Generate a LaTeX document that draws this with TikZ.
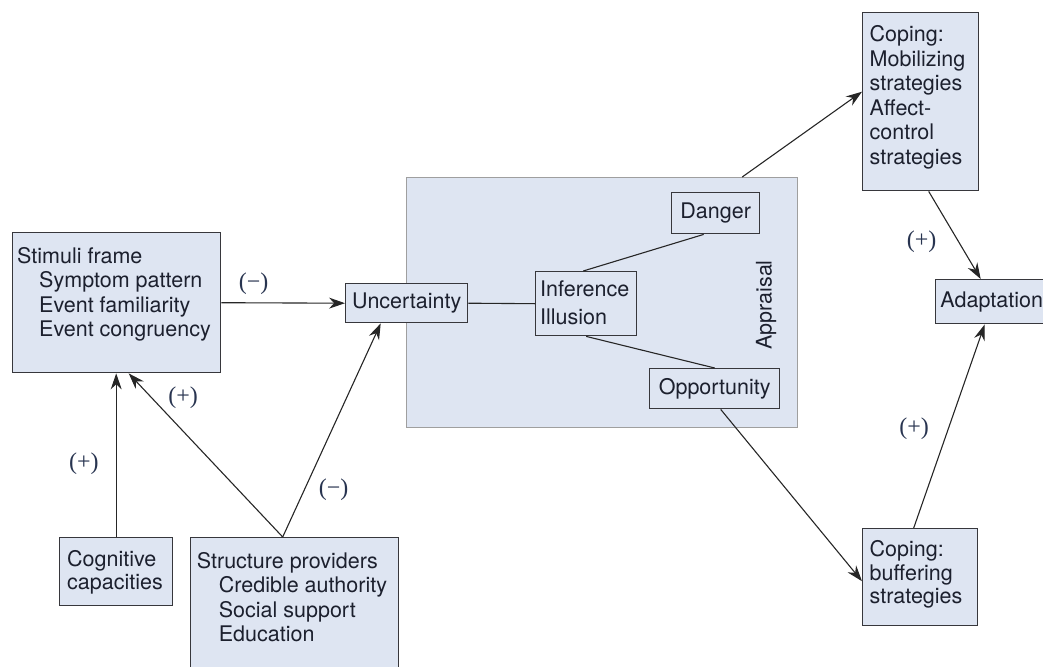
\documentclass[tikz,border=0pt]{standalone}
\usepackage{fontspec}
\setmainfont{TeX Gyre Heros}
\newfontfamily\signfont{Liberation Serif}
\usetikzlibrary{arrows.meta}

\definecolor{boxfill}{RGB}{222,229,242}
\definecolor{boxline}{RGB}{55,55,60}
\definecolor{inktext}{RGB}{28,32,46}
\definecolor{signtext}{RGB}{40,52,80}

\begin{document}
\begin{tikzpicture}[
                x = 1pt, y = -1pt,
                box/.style = {
                    draw = boxline,
                    fill = boxfill,
                    line width = 1.4pt,
                    rectangle,
                    inner sep = 0pt,
                    anchor = north west,
                    minimum width = #1,
                    text = inktext,
                    font = \fontsize{21.5}{24.5}\selectfont
                },
                box/.default = 100pt,
                boxtext/.style = {
                    inner sep = 0pt,
                    anchor = north west,
                    align = left,
                    text = inktext,
                    font = \fontsize{21.5}{24.5}\selectfont
                },
                link/.style = {draw = black!85, line width = 1.1pt},
                arrowlink/.style = {link, -{Stealth[length=16pt, width=11pt]}},
                sign/.style = {text = signtext, font = \signfont\fontsize{24}{26}\selectfont, inner sep = 0pt}
            ]

            \useasboundingbox (0,0) rectangle (1043,666);
            \clip (0,0) rectangle (1043,666);

            % appraisal frame
            \node[box=391, minimum height=250, draw=gray!75] (app) at (406,177) {};
            \node[boxtext, anchor=center, rotate=90] (apptxt) at (766,305) {Appraisal};

            \node[box=208, minimum height=140] (stim) at (12,232) {};
            \node[boxtext] (stimtxt) at (17,245.9) {\strut Stimuli frame\\\hspace*{22pt}Symptom pattern\\\hspace*{22pt}Event familiarity\\\hspace*{22pt}Event congruency};

            \node[box=122, minimum height=39] (unc) at (345,283) {Uncertainty};

            \node[box=101, minimum height=64] (inf) at (535,271) {};
            \node[boxtext] (inftxt) at (540,279.5) {\strut Inference\\[3pt]Illusion};

            \node[box=88, minimum height=41] (dan) at (671,192) {Danger};
            \node[box=130, minimum height=40] (opp) at (649,368) {Opportunity};

            \node[box=116, minimum height=178] (cop1) at (862,12) {};
            \node[boxtext] (cop1txt) at (869.5,24.5) {\strut Coping:\\Mobilizing\\strategies\\Affect-\\control\\strategies};

            \node[box=115, minimum height=97] (cop2) at (862,528) {};
            \node[boxtext] (cop2txt) at (869.5,539.5) {\strut Coping:\\[-1pt]buffering\\[-1pt]strategies};

            \node[box=112, minimum height=44] (ad) at (935,279) {Adaptation};

            \node[box=113, minimum height=68] (cog) at (59,537) {};
            \node[boxtext] (cogtxt) at (67,549.5) {\strut Cognitive\\[-2pt]capacities};

            \node[box=208, minimum height=140] (str) at (190,537) {};
            \node[boxtext] (strtxt) at (196.7,551) {\strut Structure providers\\\hspace*{22pt}Credible authority\\\hspace*{22pt}Social support\\\hspace*{22pt}Education};

            \draw[link] (unc.east) -- (inf.west);
            \draw[link] ([xshift=-3pt]inf.north) -- ([xshift=-12pt]dan.south);
            \draw[link] (inf.south) -- (opp.north);

            \draw[arrowlink] (stim.east) -- node[sign, pos=0.26, above=8pt] (s1) {(−)} (unc.west);
            \draw[arrowlink] ([xshift=140pt]app.north) -- ([yshift=10pt]cop1.west);
            \draw[arrowlink] ([xshift=8pt]cop1.south) -- node[sign, pos=0.58, left=22pt] (s2) {(+)} ([xshift=-11pt]ad.north);
            \draw[arrowlink] ([xshift=-6.5pt]cop2.north) -- node[sign, pos=0.49, left=19pt] (s3) {(+)} ([xshift=-7pt]ad.south);
            \draw[arrowlink] ([xshift=6pt]opp.south) -- ([yshift=-4pt]cop2.west);

            \draw[arrowlink] (cog.north) -- node[sign, pos=0.45, left=17pt] (s4) {(+)} (cog.north |- stim.south);
            \draw[arrowlink] ([xshift=-12pt]str.north) -- node[sign, pos=0.85, right=16pt] (s5) {(+)} ([xshift=12pt]stim.south);
            \draw[arrowlink] ([xshift=-12pt]str.north) -- node[sign, pos=0.22, right=14pt] (s6) {(−)} ([xshift=-26pt]unc.south);

         \end{tikzpicture}
\end{document}
